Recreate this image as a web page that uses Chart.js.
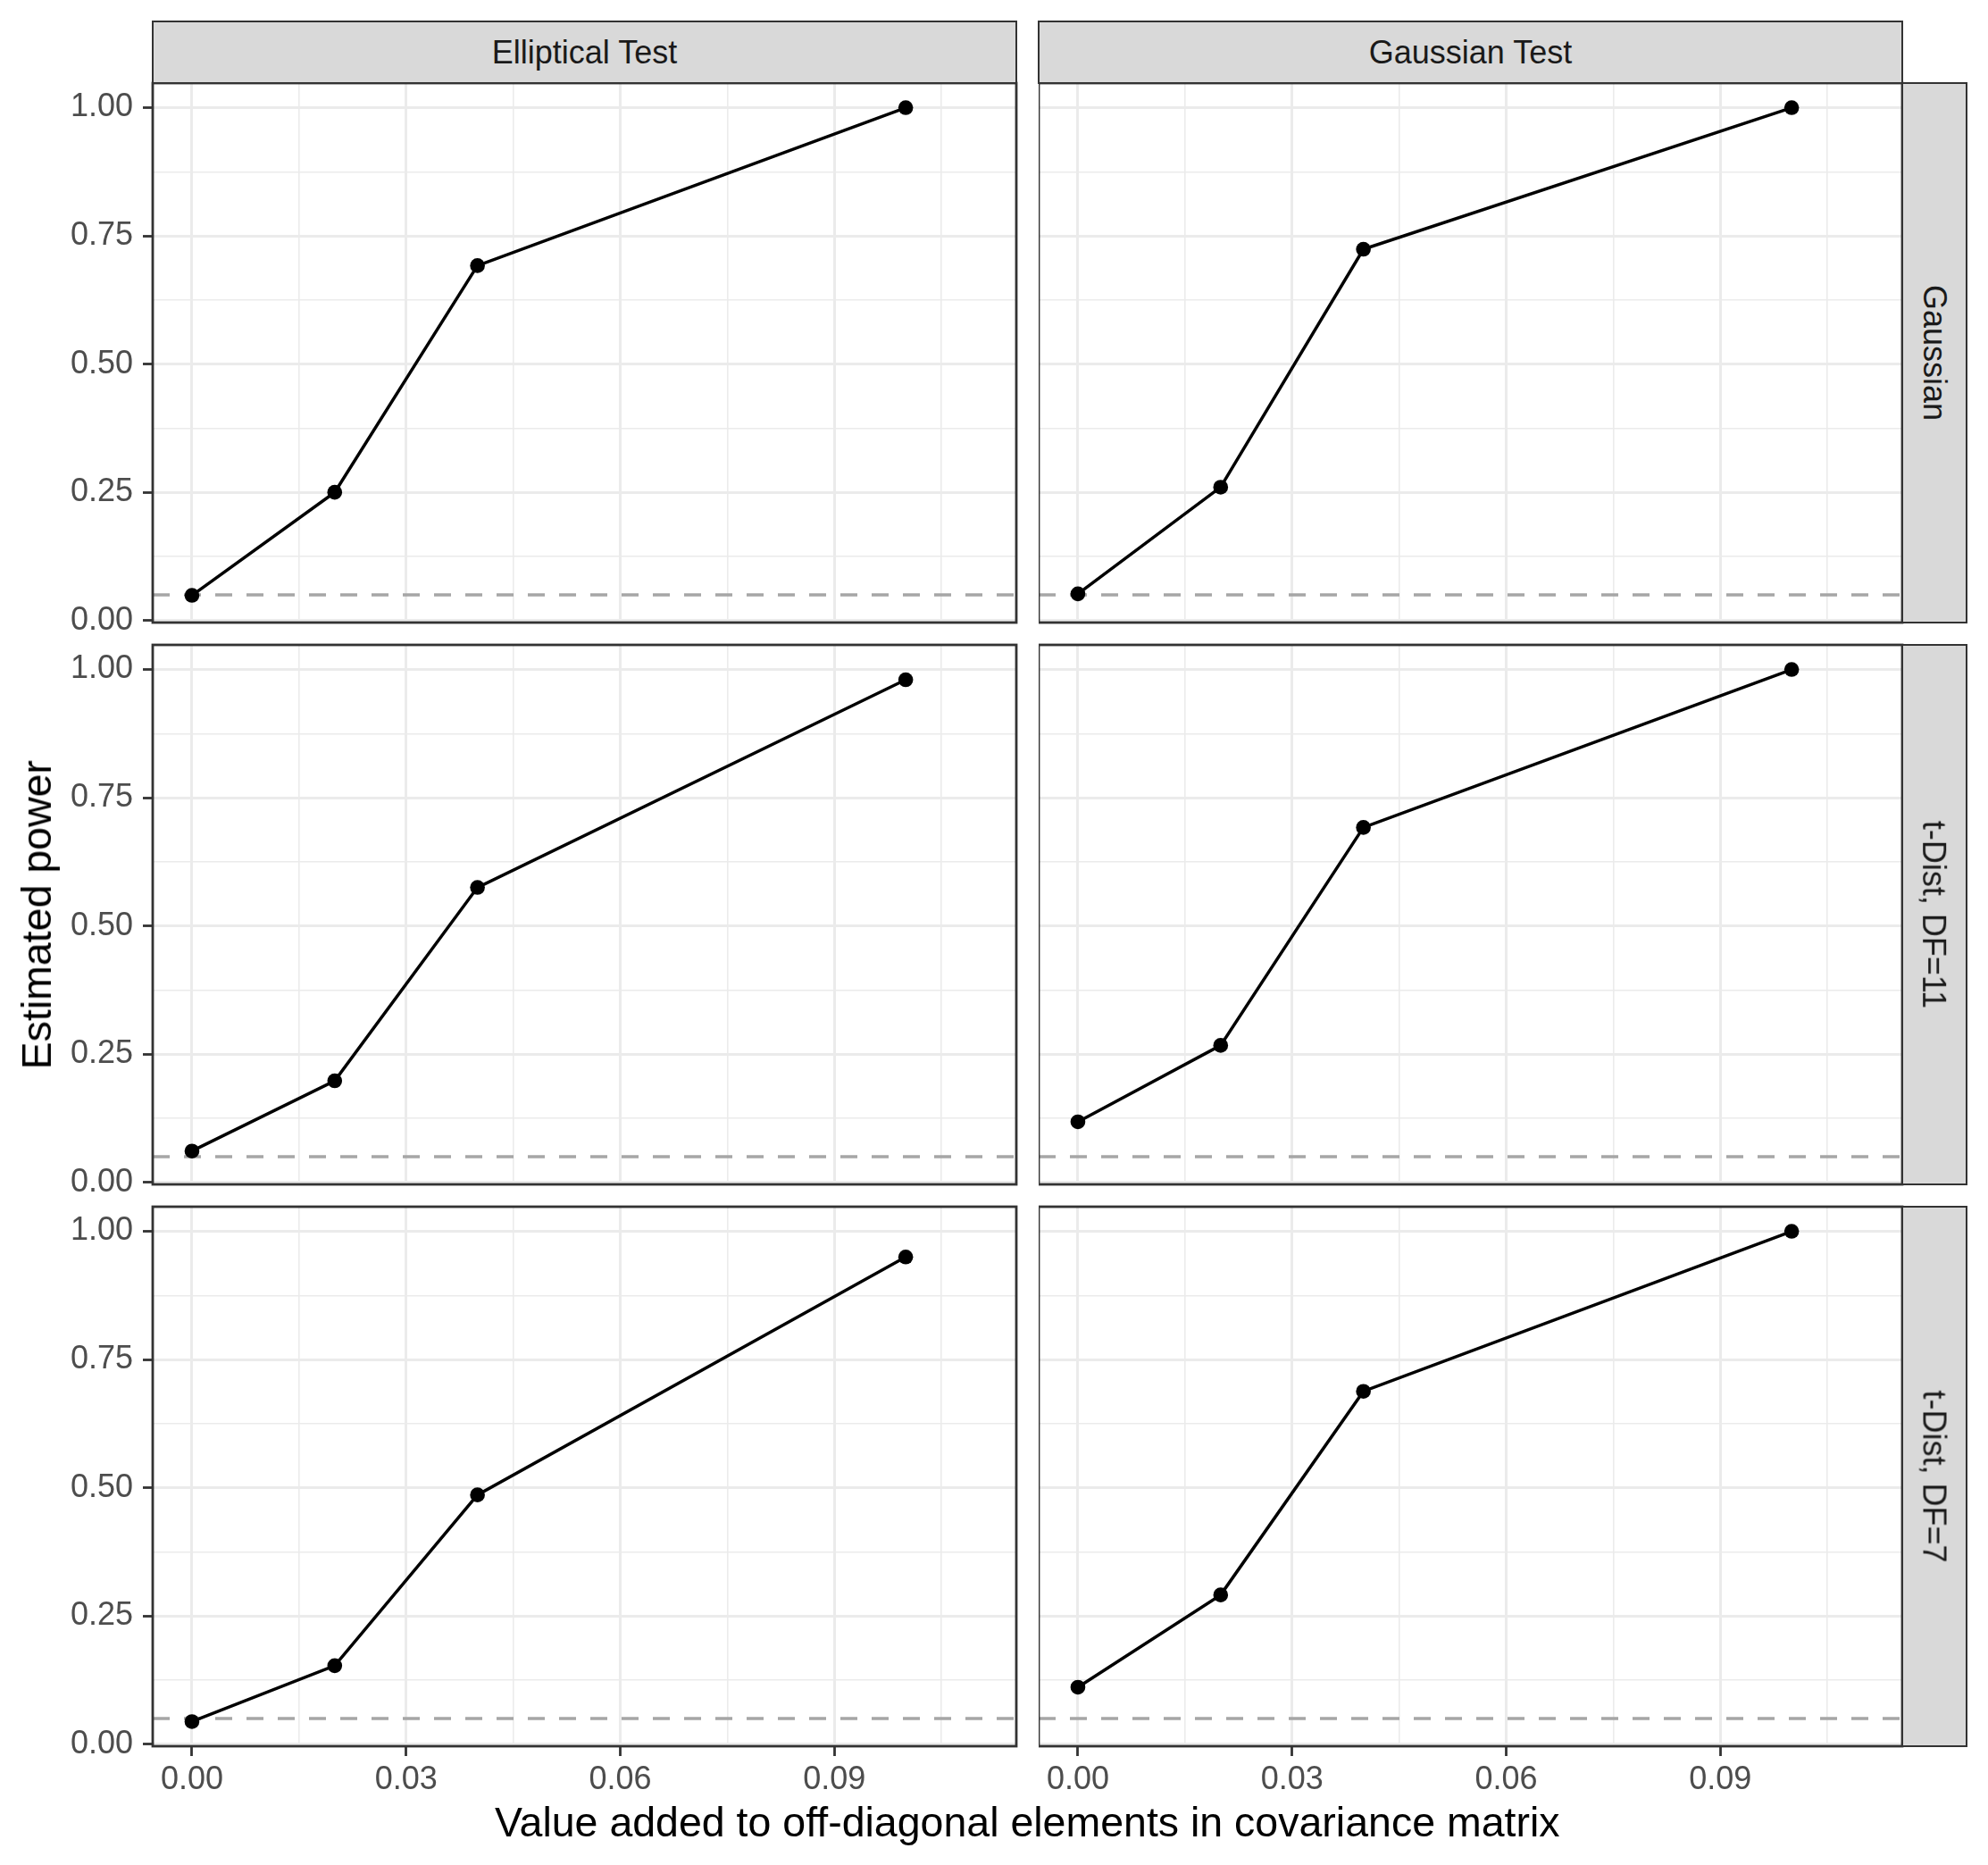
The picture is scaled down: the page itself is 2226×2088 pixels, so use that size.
<!DOCTYPE html>
<html>
<head>
<meta charset="utf-8">
<script src="https://cdn.jsdelivr.net/npm/chart.js@4.4.0/dist/chart.umd.min.js"></script>
<style>
    body { margin: 0; background: #ffffff; }
    #fig { position: relative; width: 2226px; height: 2088px; font-family: "Liberation Sans", Arial, sans-serif; overflow: hidden; }
    .wrap { position: absolute; }
    .strip { position: absolute; box-sizing: border-box; background: #d9d9d9; border: 2.8px solid #333333;
             display: flex; align-items: center; justify-content: center; color: #1a1a1a; font-size: 36px; white-space: nowrap; }
    .rot { transform: rotate(90deg); }
    .title { position: absolute; color: #000000; font-size: 46.5px; line-height: 46.5px; white-space: nowrap; }
</style>
</head>
<body>
<div id="fig"></div>
<script>
// valores
const xValues = [0, 0.02, 0.04, 0.1];
const testNames = ['Elliptical Test', 'Gaussian Test'];
const distNames = ['Gaussian', 't-Dist, DF=11', 't-Dist, DF=7'];

const ellipticalGaussian = [0.049, 0.250, 0.692, 1.000];
const gaussianGaussian   = [0.052, 0.260, 0.724, 1.000];
const ellipticalT11      = [0.061, 0.198, 0.575, 0.980];
const gaussianT11        = [0.118, 0.267, 0.692, 1.000];
const ellipticalT7       = [0.044, 0.153, 0.486, 0.950];
const gaussianT7         = [0.111, 0.291, 0.688, 1.000];

const alphaLevel = 0.05;
const xTicks = [0, 0.03, 0.06, 0.09];
const yTicks = [0, 0.25, 0.5, 0.75, 1];
const xLabel = 'Value added to off-diagonal elements in covariance matrix';
const yLabel = 'Estimated power';

// limites de los ejes (con la expansion de ggplot)
const X_MIN = -0.0055, X_MAX = 0.1155;
const Y_MIN = -0.004, Y_MAX = 1.048;

// posiciones de los paneles
const PANEL_W = 967, PANEL_H = 604;
const colLeft = [171, 1163];
const rowTop = [93, 722, 1351];

const panelSeries = [
    [ellipticalGaussian, gaussianGaussian],
    [ellipticalT11, gaussianT11],
    [ellipticalT7, gaussianT7]
];

Chart.defaults.font.family = '"Liberation Sans", Arial, sans-serif';

function conMenores(major, min, max) {
    const step = major[1] - major[0];
    const todos = major.slice();
    for (let i = -1; i < major.length; i++) {
        const v = (i < 0 ? major[0] - step : major[i]) + step / 2;
        if (v > min && v < max) todos.push(v);
    }
    return todos.filter(v => v >= min && v <= max).sort((a, b) => a - b);
}

function esMayor(lista, v) {
    return lista.some(t => Math.abs(t - v) < 1e-9);
}

const bordePanel = {
    id: 'bordePanel',
    afterDraw(chart) {
        const a = chart.chartArea;
        const ctx = chart.ctx;
        ctx.save();
        ctx.strokeStyle = '#333333';
        ctx.lineWidth = 2.8;
        ctx.strokeRect(a.left, a.top, a.right - a.left, a.bottom - a.top);
        ctx.restore();
    }
};

const fig = document.getElementById('fig');

function crearPanel(fila, col) {
    const ejeL = col === 0 ? 171 : 0;
    const ejeB = fila === 2 ? 70 : 0;
    const padT = 30, padB = fila === 2 ? 0 : 30, padR = 10;
    const wrap = document.createElement('div');
    wrap.className = 'wrap';
    wrap.style.left = (colLeft[col] - ejeL) + 'px';
    wrap.style.top = (rowTop[fila] - padT) + 'px';
    const canvas = document.createElement('canvas');
    canvas.width = ejeL + PANEL_W + padR;
    canvas.height = padT + PANEL_H + ejeB + padB;
    wrap.appendChild(canvas);
    fig.appendChild(wrap);

    const valores = panelSeries[fila][col];
    const puntos = xValues.map((x, i) => ({x: x, y: valores[i]}));

    new Chart(canvas.getContext('2d'), {
        type: 'line',
        data: {
            datasets: [
                {
                    data: puntos,
                    borderColor: '#000000',
                    borderWidth: 3.5,
                    pointRadius: 8.3,
                    pointBackgroundColor: '#000000',
                    pointBorderWidth: 0,
                    tension: 0
                },
                {
                    data: [{x: X_MIN, y: alphaLevel}, {x: X_MAX, y: alphaLevel}],
                    borderColor: '#a6a6a6',
                    borderWidth: 3.3,
                    borderDash: [19, 16],
                    pointRadius: 0
                }
            ]
        },
        options: {
            responsive: false,
            animation: false,
            devicePixelRatio: 1,
            layout: {padding: {top: padT, bottom: padB, left: 0, right: padR}, autoPadding: false},
            plugins: {legend: {display: false}, tooltip: {enabled: false}},
            scales: {
                x: {
                    type: 'linear',
                    min: X_MIN,
                    max: X_MAX,
                    afterBuildTicks: s => { s.ticks = conMenores(xTicks, X_MIN, X_MAX).map(v => ({value: v})); },
                    afterFit: s => { s.height = ejeB; s.paddingLeft = 0; s.paddingRight = 0; },
                    border: {display: false},
                    grid: {
                        color: '#ebebeb',
                        lineWidth: c => esMayor(xTicks, c.tick.value) ? 3 : 1.6,
                        drawTicks: fila === 2,
                        tickLength: 11,
                        tickColor: c => esMayor(xTicks, c.tick.value) ? '#333333' : 'rgba(0,0,0,0)',
                        tickWidth: 2.8
                    },
                    ticks: {
                        display: fila === 2,
                        autoSkip: false,
                        maxRotation: 0,
                        padding: 5,
                        color: '#4d4d4d',
                        font: {size: 36},
                        callback: v => esMayor(xTicks, v) ? v.toFixed(2) : ''
                    }
                },
                y: {
                    type: 'linear',
                    min: Y_MIN,
                    max: Y_MAX,
                    afterBuildTicks: s => { s.ticks = conMenores(yTicks, Y_MIN, Y_MAX).map(v => ({value: v})); },
                    afterFit: s => { s.width = ejeL; s.paddingTop = 0; s.paddingBottom = 0; },
                    border: {display: false},
                    grid: {
                        color: '#ebebeb',
                        lineWidth: c => esMayor(yTicks, c.tick.value) ? 3 : 1.6,
                        drawTicks: col === 0,
                        tickLength: 11,
                        tickColor: c => esMayor(yTicks, c.tick.value) ? '#333333' : 'rgba(0,0,0,0)',
                        tickWidth: 2.8
                    },
                    ticks: {
                        display: col === 0,
                        autoSkip: false,
                        padding: 11,
                        color: '#4d4d4d',
                        font: {size: 36},
                        callback: v => esMayor(yTicks, v) ? v.toFixed(2) : ''
                    }
                }
            }
        },
        plugins: [bordePanel]
    });
}

for (let f = 0; f < distNames.length; f++) {
    for (let c = 0; c < testNames.length; c++) {
        crearPanel(f, c);
    }
}

// tiras superiores
testNames.forEach((nombre, c) => {
    const d = document.createElement('div');
    d.className = 'strip';
    d.style.left = (colLeft[c] - 1.4) + 'px';
    d.style.top = '22.7px';
    d.style.width = (PANEL_W + 2.8) + 'px';
    d.style.height = (rowTop[0] - 22.7 + 1.4) + 'px';
    d.textContent = nombre;
    fig.appendChild(d);
});

// tiras derechas
distNames.forEach((nombre, f) => {
    const d = document.createElement('div');
    d.className = 'strip';
    d.style.left = (colLeft[1] + PANEL_W - 1.4) + 'px';
    d.style.top = (rowTop[f] - 1.4) + 'px';
    d.style.width = '74px';
    d.style.height = (PANEL_H + 2.8) + 'px';
    const s = document.createElement('span');
    s.className = 'rot';
    s.textContent = nombre;
    d.appendChild(s);
    fig.appendChild(d);
});

// titulos de los ejes
const tx = document.createElement('div');
tx.className = 'title';
tx.textContent = xLabel;
fig.appendChild(tx);
tx.style.left = ((colLeft[0] + colLeft[1] + PANEL_W) / 2 - tx.offsetWidth / 2) + 'px';
tx.style.top = '2017px';

const ty = document.createElement('div');
ty.className = 'title';
ty.textContent = yLabel;
fig.appendChild(ty);
const centroY = (rowTop[0] + rowTop[2] + PANEL_H) / 2;
ty.style.left = (41 - ty.offsetWidth / 2) + 'px';
ty.style.top = (centroY - 23) + 'px';
ty.style.transform = 'rotate(-90deg)';
</script>
</body>
</html>
